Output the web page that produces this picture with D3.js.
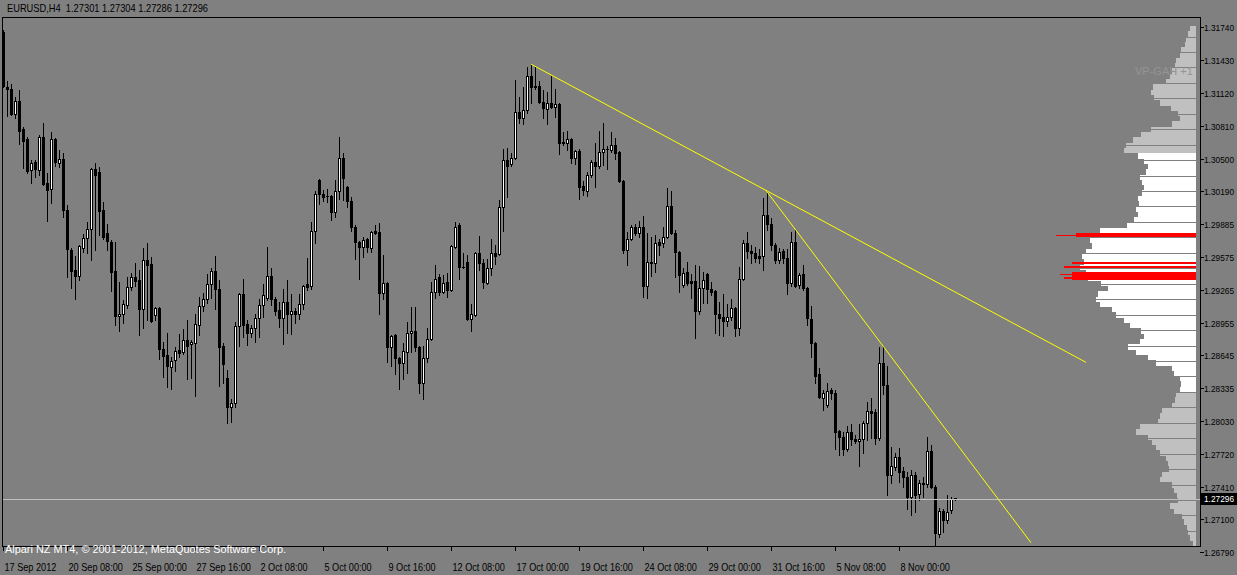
<!DOCTYPE html>
<html><head><meta charset="utf-8">
<script src="https://cdn.jsdelivr.net/npm/d3@7"></script>
<style>html,body{margin:0;padding:0;background:#808080;overflow:hidden}svg{display:block}</style>
</head><body><svg id="c" width="1237" height="575"></svg>
<script>
const title = "EURUSD,H4  1.27301 1.27304 1.27286 1.27296";
const copyright = "Alpari NZ MT4, \u00a9 2001-2012, MetaQuotes Software Corp.";
const indicatorName = "VP-GAH +1";

const open = [1.3169,1.3117,1.3116,1.3092,1.3104,1.3078,1.3068,1.3039,1.3047,1.3039,
1.3070,1.3027,1.3021,1.3068,1.3046,1.3050,1.3002,1.2964,1.2945,1.2939,
1.2966,1.2975,1.2984,1.3040,1.3037,1.3002,1.2980,1.2971,1.2944,1.2902,
1.2904,1.2912,1.2929,1.2938,1.2936,1.2908,1.2954,1.2951,1.2903,1.2909,
1.2871,1.2865,1.2854,1.2860,1.2870,1.2868,1.2879,1.2875,1.2876,1.2893,
1.2911,1.2918,1.2932,1.2944,1.2927,1.2873,1.2843,1.2816,1.2820,1.2892,
1.2922,1.2894,1.2886,1.2890,1.2900,1.2912,1.2919,1.2939,1.2918,1.2907,
1.2900,1.2915,1.2904,1.2906,1.2904,1.2913,1.2932,1.2930,1.2982,1.3030,
1.3017,1.3015,1.3015,1.3000,1.3019,1.3051,1.3023,1.3010,1.2986,1.2971,
1.2967,1.2974,1.2966,1.2982,1.2981,1.2923,1.2933,1.2872,1.2884,1.2862,
1.2857,1.2868,1.2886,1.2888,1.2872,1.2839,1.2862,1.2880,1.2924,1.2938,
1.2924,1.2934,1.2926,1.2967,1.2987,1.2948,1.2953,1.2899,1.2903,1.2961,
1.2952,1.2933,1.2947,1.2961,1.2960,1.3004,1.3049,1.3045,1.3051,1.3094,
1.3088,1.3096,1.3128,1.3118,1.3118,1.3103,1.3097,1.3102,1.3099,1.3101,
1.3066,1.3065,1.3068,1.3051,1.3057,1.3024,1.3019,1.3035,1.3047,1.3043,
1.3056,1.3059,1.3058,1.3063,1.3056,1.3029,1.2964,1.2974,1.2986,1.2980,
1.2986,1.2930,1.2952,1.2952,1.2971,1.2970,1.2976,1.3005,1.2980,1.2962,
1.2931,1.2943,1.2935,1.2935,1.2906,1.2928,1.2941,1.2927,1.2925,1.2904,
1.2901,1.2897,1.2901,1.2909,1.2890,1.2937,1.2970,1.2963,1.2961,1.2958,
1.2958,1.2997,1.2988,1.2969,1.2954,1.2963,1.2956,1.2933,1.2971,1.2931,
1.2941,1.2928,1.2899,1.2876,1.2847,1.2824,1.2818,1.2832,1.2829,1.2793,
1.2788,1.2776,1.2792,1.2786,1.2784,1.2786,1.2801,1.2812,1.2811,1.2787,
1.2857,1.2837,1.2752,1.2759,1.2769,1.2756,1.2750,1.2731,1.2752,1.2734,
1.2743,1.2743,1.2774,1.2741,1.2696,1.2718,1.2709,1.2719,1.27301];
const high = [1.3171,1.3123,1.3120,1.3108,1.3115,1.3080,1.3070,1.3049,1.3049,1.3072,
1.3084,1.3036,1.3075,1.3069,1.3058,1.3055,1.3006,1.2966,1.2958,1.2969,
1.2979,1.2990,1.3041,1.3046,1.3042,1.3009,1.2988,1.2973,1.2971,1.2934,
1.2917,1.2938,1.2942,1.2952,1.2945,1.2966,1.2970,1.2957,1.2910,1.2910,
1.2877,1.2886,1.2863,1.2872,1.2885,1.2889,1.2898,1.2879,1.2904,1.2920,
1.2923,1.2941,1.2947,1.2958,1.2936,1.2876,1.2851,1.2823,1.2896,1.2923,
1.2937,1.2898,1.2893,1.2904,1.2918,1.2932,1.2967,1.2947,1.2920,1.2915,
1.2927,1.2936,1.2922,1.2909,1.2922,1.2931,1.2956,1.2990,1.3019,1.3031,
1.3020,1.3021,1.3016,1.3030,1.3070,1.3055,1.3024,1.3014,1.2987,1.2972,
1.2976,1.2975,1.2982,1.2987,1.2989,1.2959,1.2934,1.2884,1.2885,1.2863,
1.2876,1.2896,1.2910,1.2910,1.2873,1.2873,1.2890,1.2934,1.2950,1.2941,
1.2940,1.2942,1.2969,1.2990,1.2989,1.2961,1.2959,1.2913,1.2962,1.2977,
1.2955,1.2955,1.2974,1.2969,1.3011,1.3059,1.3060,1.3055,1.3124,1.3108,
1.3117,1.3136,1.3139,1.3136,1.3123,1.3115,1.3113,1.3128,1.3116,1.3102,
1.3075,1.3076,1.3069,1.3058,1.3059,1.3029,1.3037,1.3049,1.3065,1.3076,
1.3084,1.3062,1.3075,1.3069,1.3057,1.3030,1.2981,1.2987,1.2988,1.2991,
1.2996,1.2980,1.2976,1.2978,1.2974,1.2986,1.3022,1.3019,1.2983,1.2963,
1.2947,1.2953,1.2941,1.2950,1.2949,1.2943,1.2942,1.2934,1.2926,1.2915,
1.2922,1.2913,1.2918,1.2910,1.2948,1.2973,1.2981,1.2969,1.2967,1.2965,
1.3013,1.3019,1.2994,1.2970,1.2966,1.2965,1.2965,1.2981,1.2983,1.2942,
1.2950,1.2929,1.2911,1.2877,1.2853,1.2832,1.2839,1.2834,1.2832,1.2794,
1.2792,1.2798,1.2800,1.2790,1.2800,1.2803,1.2821,1.2824,1.2814,1.2872,
1.2873,1.2855,1.2778,1.2773,1.2777,1.2759,1.2755,1.2757,1.2755,1.2747,
1.2750,1.2788,1.2780,1.2742,1.2721,1.2720,1.2733,1.2731,1.27304];
const low = [1.3117,1.3090,1.3091,1.3088,1.3064,1.3041,1.3036,1.3027,1.3033,1.3035,
1.3025,1.2991,1.3008,1.3043,1.3042,1.2995,1.2938,1.2928,1.2918,1.2936,
1.2962,1.2961,1.2954,1.2964,1.2978,1.2974,1.2964,1.2925,1.2893,1.2888,
1.2895,1.2909,1.2926,1.2930,1.2884,1.2890,1.2898,1.2896,1.2898,1.2861,
1.2844,1.2835,1.2833,1.2850,1.2863,1.2866,1.2842,1.2843,1.2826,1.2884,
1.2906,1.2914,1.2919,1.2908,1.2836,1.2839,1.2801,1.2802,1.2816,1.2873,
1.2882,1.2874,1.2882,1.2877,1.2882,1.2901,1.2917,1.2912,1.2903,1.2891,
1.2875,1.2886,1.2885,1.2895,1.2899,1.2908,1.2926,1.2927,1.2970,1.3007,
1.3010,1.3009,1.2992,1.2995,1.3012,1.3011,1.3004,1.2982,1.2955,1.2937,
1.2957,1.2962,1.2962,1.2979,1.2904,1.2918,1.2858,1.2855,1.2847,1.2833,
1.2842,1.2848,1.2868,1.2869,1.2829,1.2823,1.2858,1.2879,1.2919,1.2921,
1.2923,1.2920,1.2925,1.2966,1.2937,1.2947,1.2898,1.2888,1.2902,1.2945,
1.2928,1.2932,1.2940,1.2951,1.2959,1.2982,1.3014,1.3043,1.3050,1.3084,
1.3083,1.3093,1.3102,1.3116,1.3102,1.3088,1.3083,1.3098,1.3089,1.3054,
1.3063,1.3058,1.3046,1.3045,1.3012,1.3016,1.3015,1.3033,1.3023,1.3041,
1.3044,1.3040,1.3056,1.3050,1.3028,1.2961,1.2950,1.2973,1.2978,1.2976,
1.2920,1.2919,1.2939,1.2943,1.2959,1.2967,1.2975,1.2979,1.2938,1.2924,
1.2929,1.2931,1.2919,1.2881,1.2904,1.2914,1.2914,1.2921,1.2886,1.2884,
1.2883,1.2892,1.2898,1.2883,1.2884,1.2936,1.2956,1.2952,1.2953,1.2952,
1.2945,1.2983,1.2964,1.2952,1.2952,1.2952,1.2922,1.2930,1.2929,1.2928,
1.2926,1.2893,1.2863,1.2839,1.2824,1.2813,1.2816,1.2823,1.2776,1.2771,
1.2771,1.2774,1.2780,1.2782,1.2760,1.2773,1.2785,1.2787,1.2781,1.2785,
1.2828,1.2733,1.2744,1.2757,1.2745,1.2741,1.2720,1.2714,1.2717,1.2728,
1.2731,1.2741,1.2740,1.2686,1.2693,1.2698,1.2707,1.2716,1.27286];
const close = [1.3118,1.3116,1.3092,1.3104,1.3076,1.3067,1.3038,1.3046,1.3040,1.3070,
1.3026,1.3020,1.3068,1.3047,1.3050,1.3002,1.2965,1.2944,1.2939,1.2968,
1.2975,1.2984,1.3040,1.3035,1.3001,1.2976,1.2972,1.2943,1.2902,1.2904,
1.2913,1.2929,1.2938,1.2935,1.2908,1.2954,1.2950,1.2897,1.2909,1.2871,
1.2864,1.2855,1.2859,1.2869,1.2867,1.2879,1.2873,1.2877,1.2894,1.2911,
1.2918,1.2932,1.2944,1.2927,1.2872,1.2856,1.2816,1.2820,1.2892,1.2922,
1.2893,1.2886,1.2890,1.2900,1.2912,1.2921,1.2939,1.2918,1.2906,1.2900,
1.2915,1.2904,1.2906,1.2904,1.2913,1.2930,1.2929,1.2982,1.3017,1.3017,
1.3014,1.3015,1.3000,1.3019,1.3051,1.3032,1.3010,1.2986,1.2971,1.2967,
1.2973,1.2967,1.2981,1.2980,1.2923,1.2933,1.2872,1.2883,1.2862,1.2857,
1.2869,1.2886,1.2888,1.2872,1.2839,1.2862,1.2880,1.2924,1.2937,1.2924,
1.2933,1.2926,1.2968,1.2986,1.2948,1.2948,1.2899,1.2904,1.2961,1.2952,
1.2934,1.2947,1.2961,1.2958,1.3004,1.3049,1.3043,1.3051,1.3094,1.3088,
1.3096,1.3128,1.3117,1.3117,1.3103,1.3098,1.3102,1.3099,1.3101,1.3065,
1.3065,1.3068,1.3051,1.3057,1.3023,1.3020,1.3035,1.3047,1.3043,1.3056,
1.3059,1.3059,1.3063,1.3055,1.3029,1.2964,1.2974,1.2986,1.2980,1.2986,
1.2930,1.2953,1.2953,1.2970,1.2969,1.2976,1.3005,1.2980,1.2962,1.2940,
1.2942,1.2933,1.2933,1.2906,1.2928,1.2936,1.2927,1.2924,1.2904,1.2900,
1.2897,1.2901,1.2909,1.2890,1.2937,1.2970,1.2963,1.2961,1.2956,1.2956,
1.2997,1.2988,1.2969,1.2954,1.2962,1.2956,1.2933,1.2971,1.2930,1.2940,
1.2928,1.2900,1.2876,1.2845,1.2825,1.2829,1.2831,1.2829,1.2792,1.2788,
1.2776,1.2792,1.2786,1.2784,1.2786,1.2801,1.2812,1.2810,1.2787,1.2857,
1.2837,1.2752,1.2760,1.2769,1.2755,1.2750,1.2731,1.2752,1.2733,1.2744,
1.2744,1.2774,1.2741,1.2697,1.2718,1.2709,1.2717,1.2729,1.27296];

const timeLabels = ["17 Sep 2012","20 Sep 08:00","25 Sep 00:00","27 Sep 16:00","2 Oct 08:00","5 Oct 00:00","9 Oct 16:00","12 Oct 08:00","17 Oct 00:00","19 Oct 16:00","24 Oct 08:00","29 Oct 00:00","31 Oct 16:00","5 Nov 08:00","8 Nov 00:00"];
const timeLabelBars = [0,16,32,48,64,80,96,112,128,144,160,176,192,208,224];
const priceLabels = ["1.31740","1.31430","1.31120","1.30810","1.30500","1.30190","1.29885","1.29575","1.29265","1.28955","1.28645","1.28335","1.28030","1.27720","1.27410","1.27100","1.26790"];
const lastPrice = 1.27296;
const lastPriceLabel = "1.27296";

// trendlines: [bar index, price] anchors
const trend1Bars = [132, 270.75];
const trend1Prices = [1.3139, 1.2858];
const trend2Bars = [190.75, 257];
const trend2Prices = [1.3020, 1.2688];

// volume profile: bins of 0.0005, top bin lower edge 1.3170, going down
const profileTop = 1.3170;
const profileStep = 0.0005;
const profileVolume = [6,8,10,11,15,16,20,21,24,26,
30,43,45,42,36,25,18,16,24,45,
55,63,70,72,58,52,48,50,56,54,
52,54,58,57,60,58,62,69,96,100,
106,104,110,114,112,116,110,108,95,88,
98,100,96,84,80,72,66,55,52,56,
68,60,48,40,24,22,16,15,16,20,
21,24,34,36,38,56,60,48,44,40,
36,30,28,27,34,36,24,22,19,18,
26,22,14,12,9,8,6,3];
const valueAreaHigh = 1.3055;
const valueAreaLow = 1.2830;
// highest-volume price levels (drawn red)
const pocHigh = [1.2980, 1.2978, 1.2953, 1.2949, 1.2943, 1.2941, 1.2938];
const pocLow  = [1.2976, 1.2977, 1.2951, 1.2947, 1.2936, 1.2940, 1.2937];
const pocVolume = [120, 140, 124, 132, 124, 136, 132];

const W = 1237, H = 575;
const svg = d3.select("#c");
const font = "'Liberation Sans', Arial, sans-serif";
svg.append("rect").attr("width", W).attr("height", H).attr("fill", "#808080");

function fitText(sel, factor) {
  const n = sel.node();
  const len = n.getComputedTextLength();
  sel.attr("textLength", (len * factor).toFixed(1)).attr("lengthAdjust", "spacingAndGlyphs");
  return sel;
}

const chartLeft = 2, chartRight = 1200, chartTop = 17, chartBottom = 546;
const x = d3.scaleLinear().domain([0, 1]).range([3, 7]);
const y = d3.scaleLinear().domain([1.26790, 1.31740]).range([552.3, 27]);

// volume profile
const vol = d3.scaleLinear().domain([0, 150]).range([0, 150]);
const profRight = 1196;
const profG = svg.append("g").attr("shape-rendering", "crispEdges");
profileVolume.forEach((v, k) => {
  const lo = profileTop - k * profileStep, hi = lo + profileStep;
  const y0 = Math.round(y(hi)), y1 = Math.round(y(lo));
  let col = "#c0c0c0";
  if (lo >= valueAreaLow - 1e-9 && lo < valueAreaHigh - 1e-9) col = "#ffffff";
  const w = Math.round(vol(v));
  profG.append("rect").attr("x", profRight - w).attr("y", y0).attr("width", w).attr("height", Math.max(1, y1 - y0)).attr("fill", col);
});
// separator gaps
const sepStart = 1.3034, sepStep = 0.001456;
const seps = [];
for (let p = sepStart; p < 1.3176; p += sepStep) seps.push(p);
for (let p = sepStart - sepStep; p > 1.2684; p -= sepStep) seps.push(p);
profG.selectAll("line.sep").data(seps).enter().append("line")
  .attr("x1", 1050).attr("x2", profRight).attr("y1", d => Math.round(y(d)) + 0.5).attr("y2", d => Math.round(y(d)) + 0.5)
  .attr("stroke", "#808080").attr("stroke-width", 1);
pocVolume.forEach((v, j) => {
  const y0 = Math.round(y(pocHigh[j])), y1 = Math.round(y(pocLow[j]));
  const w = Math.round(vol(v));
  profG.append("rect").attr("x", profRight - w).attr("y", y0).attr("width", w).attr("height", Math.max(1, y1 - y0)).attr("fill", "#ff0000");
});

svg.append("text").attr("x", 1135).attr("y", 75).text(indicatorName)
  .attr("font-family", font).attr("font-size", 11).attr("fill", "#949494");

// candles
const cg = svg.append("g").attr("shape-rendering", "crispEdges");
open.forEach((o, i) => {
  const c = close[i], h = high[i], l = low[i];
  const cx = Math.round(x(i));
  const yh = Math.round(y(h)), yl = Math.round(y(l));
  const yt = Math.round(y(Math.max(o, c))), yb = Math.round(y(Math.min(o, c)));
  cg.append("rect").attr("x", cx).attr("y", yh).attr("width", 1).attr("height", Math.max(1, yl - yh + 1)).attr("fill", "#000");
  cg.append("rect").attr("x", cx - 1).attr("y", yt).attr("width", 3).attr("height", Math.max(1, yb - yt + 1)).attr("fill", "#000");
  if (c > o && yb - yt >= 2) {
    cg.append("rect").attr("x", cx).attr("y", yt + 1).attr("width", 1).attr("height", yb - yt - 1).attr("fill", "#fff");
  }
});

// last price line
svg.append("line").attr("x1", chartLeft).attr("x2", chartRight)
  .attr("y1", Math.round(y(lastPrice)) + 0.5).attr("y2", Math.round(y(lastPrice)) + 0.5)
  .attr("stroke", "#c0c0c0").attr("stroke-width", 1);

// trendlines
const tl = d3.line().x(d => x(d[0])).y(d => y(d[1]));
[[trend1Bars, trend1Prices], [trend2Bars, trend2Prices]].forEach(([b, p]) => {
  svg.append("path").attr("d", tl(b.map((v, j) => [v, p[j]]))).attr("stroke", "#ffff00").attr("stroke-width", 1).attr("fill", "none");
});

// frame
svg.append("rect").attr("x", chartLeft + 0.5).attr("y", chartTop + 0.5).attr("width", chartRight - chartLeft).attr("height", chartBottom - chartTop)
  .attr("fill", "none").attr("stroke", "#000").attr("stroke-width", 1);

// price axis
const pa = svg.append("g");
priceLabels.forEach(s => {
  const py = Math.round(y(+s)) + 0.5;
  pa.append("line").attr("x1", chartRight).attr("x2", chartRight + 4).attr("y1", py).attr("y2", py).attr("stroke", "#000");
  pa.append("text").attr("x", 1204).attr("y", py).attr("dy", "0.36em").text(s)
    .attr("font-family", font).attr("font-size", 9.2).attr("fill", "#000")
    .attr("textLength", 30).attr("lengthAdjust", "spacingAndGlyphs");
});
const lpY = Math.round(y(lastPrice));
pa.append("rect").attr("x", 1201).attr("y", lpY - 6).attr("width", 36).attr("height", 12).attr("fill", "#000");
pa.append("text").attr("x", 1204).attr("y", lpY).attr("dy", "0.36em").text(lastPriceLabel)
  .attr("font-family", font).attr("font-size", 9.2).attr("fill", "#fff")
  .attr("textLength", 30).attr("lengthAdjust", "spacingAndGlyphs");

// time axis
const ta = svg.append("g");
timeLabelBars.forEach((b, j) => {
  const tx = Math.round(x(b)) + 0.5;
  ta.append("line").attr("x1", tx).attr("x2", tx).attr("y1", chartBottom).attr("y2", chartBottom + 5).attr("stroke", "#000");
  const t = ta.append("text").attr("x", tx + 1).attr("y", 571).text(timeLabels[j])
    .attr("font-family", font).attr("font-size", 10.5).attr("fill", "#000");
  fitText(t, 0.87);
});

const ht = svg.append("text").attr("x", 7).attr("y", 12).text(title).attr("font-family", font).attr("font-size", 10.5).attr("fill", "#000").style("white-space", "pre");
ht.attr("textLength", 201).attr("lengthAdjust", "spacingAndGlyphs");
const ct = svg.append("text").attr("x", 5).attr("y", 553).text(copyright).attr("font-family", font).attr("font-size", 11).attr("fill", "#fff");
ct.attr("textLength", 281).attr("lengthAdjust", "spacingAndGlyphs");
</script></body></html>
